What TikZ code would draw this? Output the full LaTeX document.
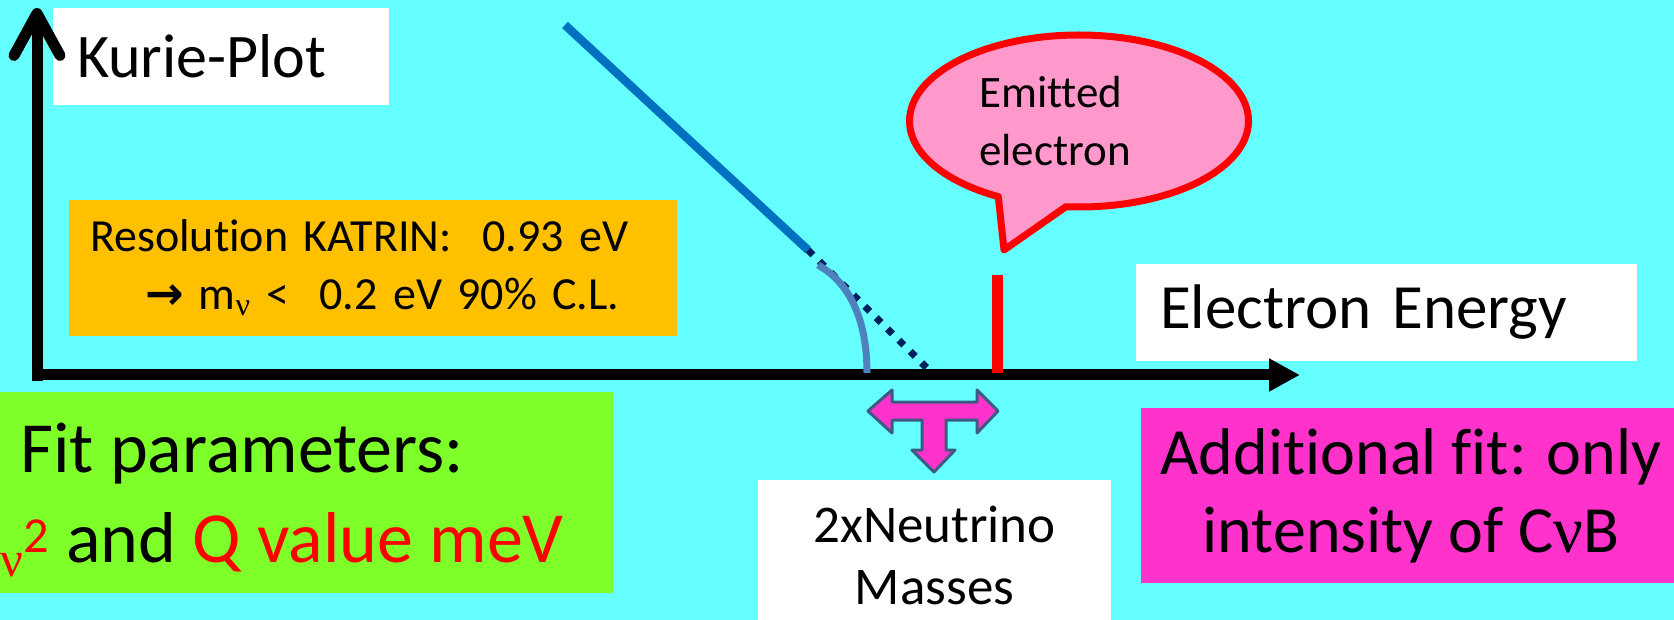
\documentclass[tikz,border=0pt]{standalone}
\usepackage{fontspec}
\setmainfont{Carlito}[Ligatures=NoCommon]
\newfontfamily\greekfont{Liberation Serif}
\newfontfamily\symbfont{DejaVu Sans}
\usepackage{tikz}
\usetikzlibrary{arrows.meta, shapes.callouts, shapes.geometric}
\usepackage{xcolor}

\definecolor{bgcyan}{HTML}{66FFFF}
\definecolor{boxorange}{HTML}{FFC000}
\definecolor{boxgreen}{HTML}{7FFF2A}
\definecolor{boxmagenta}{HTML}{FF33CC}
\definecolor{bubblepink}{HTML}{FF99CC}
\definecolor{kurieblue}{HTML}{0070C0}
\definecolor{kurienavy}{HTML}{002060}
\definecolor{massblue}{HTML}{4F81BD}
\definecolor{tborder}{HTML}{3C5A82}

\begin{document}
\begin{tikzpicture}[
  x=1pt, y=-1pt,
  F/.style 2 args={font={\fontsize{#1}{#2}\selectfont}},
  B/.style={rectangle, inner sep=0pt, text=black},
  Bw/.style={B, fill=white},
  Bo/.style={B, fill=boxorange},
  Bg/.style={B, fill=boxgreen},
  Bm/.style={B, fill=boxmagenta},
  axis/.style={line width=11pt, black},
  tarrow/.style={fill=boxmagenta, draw=tborder, line width=3pt, line join=round},
]

%% ---- canvas ----
\useasboundingbox (0,0) rectangle (1674,620);
\clip (0,0) rectangle (1674,620);
\fill[bgcyan] (0,0) rectangle (1674,620);

%% ---- text boxes ----
\node[Bw, minimum width=336, minimum height=97, inner xsep=24,
      text width=288, align=left, F={62}{74}] (kurie) at (221,56.5) {Kurie-Plot};
\node[Bo, minimum width=608, minimum height=136, inner xsep=21,
      text width=566, align=left, F={46}{58}] (res) at (373,268)
  {Resolution KATRIN:\ \ 0.93 eV\\
   \hspace*{55pt}{\symbfont\bfseries →} m\textsubscript{\greekfont ν} <\ \ 0.2 eV 90\% C.L.};
\node[Bw, minimum width=501, minimum height=97, inner xsep=24,
      text width=453, align=left, F={63}{76}] (energy) at (1386.5,312.5) {Electron Energy};
\node[Bw, minimum width=353, minimum height=150, align=center,
      F={53}{62}] (masses) at (934.5,555) {2xNeutrino\\Masses};
\node[Bm, minimum width=540, minimum height=175, align=center,
      F={66}{78}] (extra) at (1411,495.5)
  {Additional fit: only\\intensity of C{\greekfont ν}B};

% green box, its second line runs off the left edge
\node[Bg, minimum width=613, minimum height=201] (fitbox) at (306.5,492.5) {};
\node[F={72}{90}, anchor=base west, inner sep=0pt] (fit1) at (20,472) {Fit parameters:};
\node[F={72}{90}, anchor=base east, inner sep=0pt] (fit2) at (564,562)
  {\textcolor{red}{m\textsubscript{\greekfont ν}\textsuperscript{2}} and \textcolor{red}{Q value meV}};

%% ---- speech bubble ----
\node[ellipse callout, draw=red, line width=7pt, fill=bubblepink,
      minimum width=339, minimum height=172, line join=round,
      callout absolute pointer={(1004,250)}, callout pointer arc=24] (bubble) at (1079,121) {};
\node[F={45}{58}, align=left] (bubbletxt) at ([xshift=-24pt]bubble.center) {Emitted\\electron};

%% ---- axes ----
\coordinate (ybot)   at (37,381);
\coordinate (ytop)   at (37,8);
\coordinate (xleft)  at (31.5,375);
\coordinate (xright) at (1300,375);
\draw[axis, -{Straight Barb[length=42pt, width=46pt, round]}] (ybot) -- (ytop);
\draw[axis, -{Triangle[length=31pt, width=31pt]}] (xleft) -- (xright);

%% ---- spectrum ----
\coordinate (kA) at (565,25);
\coordinate (kB) at (808,250);
\coordinate (kC) at (933,374);
\coordinate (mA) at (818,265);
\coordinate (mB) at (867,373);
\coordinate (eA) at (997,275);
\coordinate (eB) at (997,373);
\draw[kurieblue, line width=8.5pt] (kA) -- (kB);
\draw[kurienavy, line width=7pt, dash pattern=on 7pt off 9pt] (kB) -- (kC);
\draw[massblue, line width=7pt] (mA) .. controls (850,283) and (867,320) .. (mB);
\draw[red, line width=11pt] (eA) -- (eB);

%% ---- T arrow (mass range) ----
\draw[tarrow] (868,411) -- (892,390) -- (892,402) -- (977,402) -- (977,390)
  -- (998,411) -- (977,433) -- (977,420) -- (946,420) -- (946,450)
  -- (955,450) -- (934,472) -- (912,450) -- (922,450) -- (922,420)
  -- (892,420) -- (892,433) -- cycle;

\end{tikzpicture}
\end{document}
